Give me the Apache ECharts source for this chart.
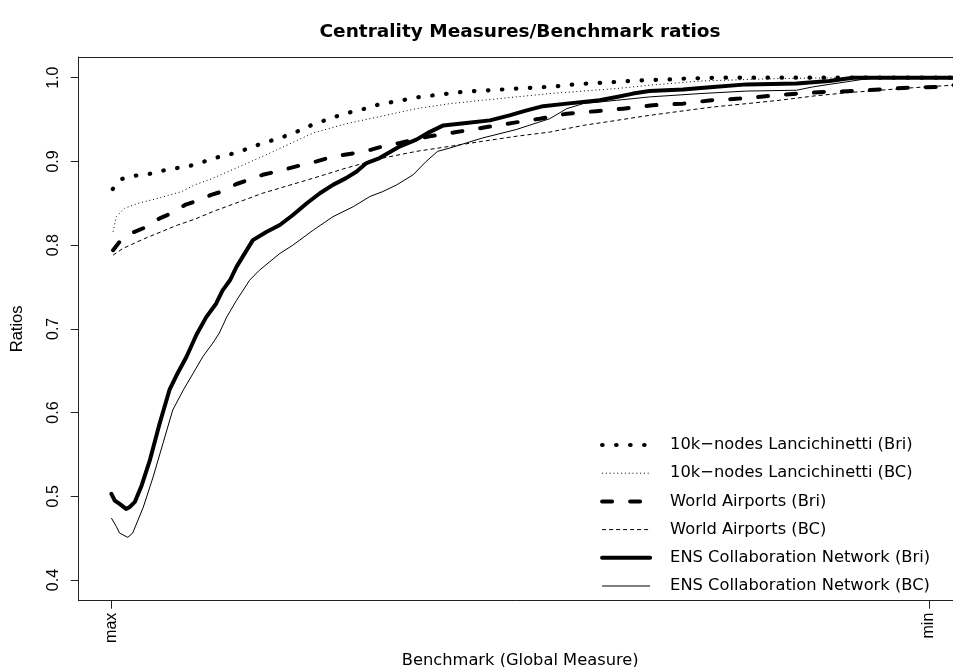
<!DOCTYPE html>
<html>
<head>
<meta charset="utf-8">
<script src="https://cdn.jsdelivr.net/npm/echarts@6/dist/echarts.min.js"></script>
<style>html,body{margin:0;padding:0;background:#fff;}#c{width:953px;height:667px;}</style>
</head>
<body>
<div id="c"></div>
<script>
// x: position along benchmark ranking (0 = max, 100 = min); y: ratio
const lancBri = [[0.16,0.867],[1.26,0.879],[2.9,0.883],[4.6,0.885],[6.3,0.889],[8.0,0.892],[9.7,0.895],[11.4,0.900],[13.0,0.905],[14.7,0.909],[16.3,0.914],[18.0,0.920],[19.6,0.925],[21.2,0.930],[22.8,0.936],[24.4,0.943],[26.1,0.949],[27.6,0.954],[29.3,0.959],[31.0,0.963],[32.7,0.968],[34.4,0.971],[36.1,0.974],[37.7,0.977],[39.5,0.979],[41.2,0.981],[42.9,0.983],[44.6,0.984],[46.3,0.985],[48.0,0.986],[49.7,0.987],[51.4,0.988],[53.2,0.989],[54.9,0.990],[56.6,0.992],[58.4,0.993],[60.1,0.994],[61.8,0.995],[63.5,0.996],[65.3,0.997],[68.7,0.998],[70.4,0.999],[74.4,1.0],[104,1.0]];
const lancBC = [[0.2,0.816],[0.6,0.834],[1.6,0.844],[3.3,0.850],[6.1,0.857],[8.6,0.864],[10.2,0.872],[12.2,0.879],[18.5,0.906],[24.7,0.934],[28.7,0.945],[32.6,0.953],[37.3,0.963],[41.4,0.969],[45.4,0.973],[49.5,0.977],[53.6,0.981],[57.7,0.984],[61.8,0.987],[65.8,0.991],[72.0,0.996],[81.7,0.999],[90.2,1.0],[104,1.0]];
const airBri = [[0.2,0.794],[1.0,0.804],[2.6,0.815],[4.1,0.821],[5.9,0.832],[7.1,0.837],[9.0,0.848],[10.2,0.852],[12.2,0.860],[13.5,0.864],[15.3,0.873],[16.5,0.877],[18.5,0.884],[19.8,0.887],[21.8,0.892],[23.0,0.895],[25.1,0.900],[26.5,0.904],[28.5,0.908],[29.8,0.910],[31.8,0.914],[33.2,0.918],[35.3,0.922],[38.9,0.930],[42.2,0.935],[45.9,0.941],[49.1,0.946],[52.4,0.951],[55.7,0.957],[59.3,0.960],[62.6,0.963],[66.2,0.967],[69.9,0.969],[73.4,0.973],[76.8,0.975],[80.3,0.978],[83.8,0.981],[87.2,0.983],[90.7,0.984],[94.0,0.986],[97.4,0.988],[100.9,0.989],[102.9,0.991],[104,0.992]];
const airBC = [[0.2,0.788],[1.4,0.796],[4.1,0.808],[6.1,0.816],[8.1,0.824],[10.2,0.831],[12.4,0.840],[18.5,0.862],[24.7,0.880],[28.7,0.892],[33.2,0.904],[37.3,0.912],[41.4,0.918],[45.4,0.924],[49.5,0.930],[53.6,0.935],[57.7,0.943],[61.8,0.949],[65.8,0.955],[72.0,0.963],[73.6,0.965],[77.7,0.969],[81.7,0.973],[85.8,0.978],[89.9,0.982],[94.0,0.985],[98.0,0.988],[102.9,0.991],[104,0.992]];
const ensBri = [[0,0.503],[0.4,0.495],[1.0,0.491],[1.8,0.485],[2.2,0.487],[2.85,0.493],[3.7,0.513],[4.7,0.543],[5.9,0.587],[7.1,0.627],[8.1,0.647],[9.2,0.667],[10.4,0.693],[11.6,0.714],[12.8,0.730],[13.6,0.746],[14.5,0.758],[15.3,0.774],[17.3,0.806],[19.0,0.816],[20.6,0.824],[22.2,0.836],[23.9,0.850],[25.5,0.862],[27.1,0.872],[28.7,0.880],[30.0,0.888],[31.2,0.898],[32.8,0.904],[35.3,0.918],[37.3,0.926],[38.9,0.935],[40.6,0.943],[43.4,0.946],[46.3,0.949],[48.7,0.955],[50.8,0.961],[52.8,0.966],[55.7,0.969],[59.7,0.973],[61.8,0.977],[63.8,0.981],[65.8,0.984],[69.9,0.986],[73.6,0.989],[77.7,0.992],[83.8,0.993],[87.8,0.996],[90.7,1.0],[104,1.0]];
const ensBC = [[0,0.474],[0.2,0.472],[0.6,0.464],[1.0,0.456],[2.0,0.451],[2.6,0.456],[3.9,0.487],[5.1,0.523],[6.3,0.563],[7.5,0.603],[8.8,0.627],[10.0,0.647],[11.2,0.667],[12.4,0.683],[13.2,0.695],[14.1,0.714],[15.3,0.734],[16.9,0.758],[18.1,0.770],[20.6,0.790],[22.2,0.800],[24.7,0.818],[27.1,0.834],[29.6,0.846],[31.6,0.858],[33.2,0.864],[34.9,0.872],[36.9,0.884],[38.5,0.900],[39.9,0.912],[41.4,0.916],[43.4,0.922],[45.4,0.928],[49.5,0.938],[53.6,0.951],[55.7,0.963],[57.7,0.969],[61.8,0.973],[65.8,0.977],[72.0,0.981],[77.7,0.984],[83.8,0.985],[85.8,0.989],[87.8,0.992],[89.9,0.995],[91.9,0.998],[94.0,1.0],[104,1.0]];

const seriesNames = ['10k\u2212nodes Lancichinetti (Bri)','10k\u2212nodes Lancichinetti (BC)','World Airports (Bri)','World Airports (BC)','ENS Collaboration Network (Bri)','ENS Collaboration Network (BC)'];
const xTickValues = [0, 100];
const xTickLabels = ['max', 'min'];
const yTickValues = [0.4, 0.5, 0.6, 0.7, 0.8, 0.9, 1.0];

const styles = [
  {width: 4.2, type: [0.5, 13.5], cap: 'round'},
  {width: 1, type: [1, 2.8], cap: 'butt'},
  {width: 4, type: [10, 18], cap: 'round'},
  {width: 1, type: [4, 3], cap: 'butt'},
  {width: 4, type: 'solid', cap: 'round'},
  {width: 1, type: 'solid', cap: 'butt'}
];
const datasets = [lancBri, lancBC, airBri, airBC, ensBri, ensBC];

const chart = echarts.init(document.getElementById('c'), null, {renderer: 'canvas'});
const hfont = 'DejaVu Sans';
const vfont = 'Liberation Sans';
chart.setOption({
  animation: false,
  backgroundColor: '#fff',
  title: {
    text: 'Centrality Measures/Benchmark ratios',
    left: 520, top: 23, textAlign: 'center', padding: 0,
    textStyle: {fontFamily: hfont, fontWeight: 'bold', fontSize: 18.5, color: '#000'}
  },
  legend: {
    orient: 'vertical', left: 600, top: 435, padding: 0,
    itemWidth: 48, itemHeight: 14, itemGap: 8.2,
    selectedMode: false,
    itemStyle: {color: 'transparent', borderWidth: 0, opacity: 0},
    textStyle: {fontFamily: hfont, fontSize: 16.3, color: '#000', lineHeight: 20, padding: [0, 0, 0, 15]},
    data: seriesNames.map((n, i) => ({name: n, lineStyle: {color: '#000', width: styles[i].width, type: styles[i].type, cap: styles[i].cap, opacity: 1}}))
  },
  grid: {left: 78.7, right: -8.7, top: 57, bottom: 66.3, containLabel: false, outerBoundsMode: 'none', show: false},
  xAxis: [{
    type: 'value', min: -4, max: 104,
    name: 'Benchmark (Global Measure)', nameLocation: 'middle', nameGap: 52,
    nameTextStyle: {fontFamily: hfont, fontSize: 16.3, color: '#000'},
    axisLine: {show: true, onZero: false, lineStyle: {color: '#222', width: 1}},
    axisTick: {show: true, length: 8, customValues: xTickValues, lineStyle: {color: '#222'}},
    axisLabel: {rotate: 90, margin: 12, customValues: xTickValues, fontFamily: vfont, fontSize: 16, color: '#000',
      formatter: v => xTickLabels[xTickValues.indexOf(v)]},
    splitLine: {show: false}
  }, {
    type: 'value', min: -4, max: 104, position: 'top',
    axisLine: {show: true, onZero: false, lineStyle: {color: '#222', width: 1}},
    axisTick: {show: false}, axisLabel: {show: false}, splitLine: {show: false}
  }],
  yAxis: {
    type: 'value', min: 0.3753, max: 1.0247,
    name: 'Ratios', nameLocation: 'middle', nameGap: 53,
    nameTextStyle: {fontFamily: vfont, fontSize: 16.5, color: '#000'},
    axisLine: {show: true, onZero: false, lineStyle: {color: '#222', width: 1}},
    axisTick: {show: true, length: 8, customValues: yTickValues, lineStyle: {color: '#222'}},
    axisLabel: {rotate: 90, margin: 17, customValues: yTickValues, fontFamily: vfont, fontSize: 16, color: '#000',
      formatter: v => v.toFixed(1)},
    splitLine: {show: false}
  },
  series: datasets.map((d, i) => ({
    name: seriesNames[i], type: 'line', data: d, symbol: 'none', showSymbol: false,
    clip: true, silent: true,
    lineStyle: {color: '#000', width: styles[i].width, type: styles[i].type, cap: styles[i].cap, join: 'round'},
    itemStyle: {color: '#000'}
  }))
});
</script>
</body>
</html>
